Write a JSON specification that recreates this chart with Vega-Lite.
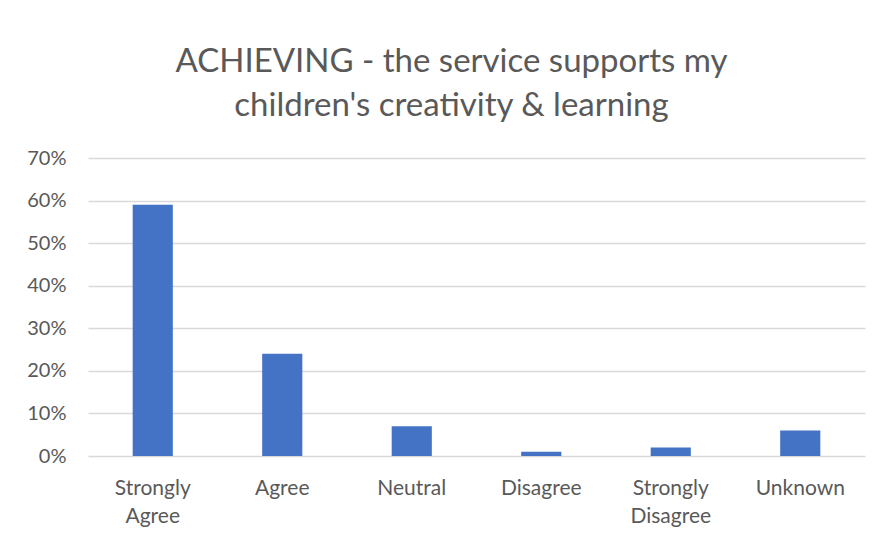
{
  "$schema": "https://vega.github.io/schema/vega-lite/v6.json",
  "width": 777,
  "height": 298,
  "autosize": {"type": "none"},
  "padding": {"left": 88, "top": 158, "right": 16, "bottom": 84},
  "background": "white",
  "title": {
    "text": ["ACHIEVING - the service supports my", "children's creativity & learning"],
    "font": "Lato",
    "fontSize": 33,
    "fontWeight": "normal",
    "color": "#595959",
    "anchor": "middle",
    "frame": "group",
    "dx": -25,
    "lineHeight": 44,
    "offset": 25
  },
  "data": {
    "values": [
      {"category": "Strongly Agree", "value": 0.59},
      {"category": "Agree", "value": 0.24},
      {"category": "Neutral", "value": 0.07},
      {"category": "Disagree", "value": 0.01},
      {"category": "Strongly Disagree", "value": 0.02},
      {"category": "Unknown", "value": 0.06}
    ]
  },
  "mark": {"type": "bar", "color": "#4472C4"},
  "encoding": {
    "x": {
      "field": "category",
      "type": "nominal",
      "sort": null,
      "scale": {"paddingInner": 0.69, "paddingOuter": 0.345},
      "axis": {
        "title": null,
        "labelAngle": 0,
        "labelExpr": "split(datum.label, ' ')",
        "labelFont": "Lato",
        "labelFontSize": 21,
        "labelColor": "#595959",
        "labelPadding": 21,
        "labelLineHeight": 28,
        "ticks": false,
        "domain": false
      }
    },
    "y": {
      "field": "value",
      "type": "quantitative",
      "scale": {"domain": [0, 0.7]},
      "axis": {
        "title": null,
        "format": ".0%",
        "values": [0, 0.1, 0.2, 0.3, 0.4, 0.5, 0.6, 0.7],
        "labelFont": "Lato",
        "labelFontSize": 20,
        "labelColor": "#595959",
        "labelPadding": 22,
        "labelOverlap": false,
        "ticks": false,
        "domain": false,
        "grid": true,
        "gridColor": "#D9D9D9",
        "gridWidth": 1.3
      }
    }
  },
  "config": {"view": {"stroke": null}}
}
